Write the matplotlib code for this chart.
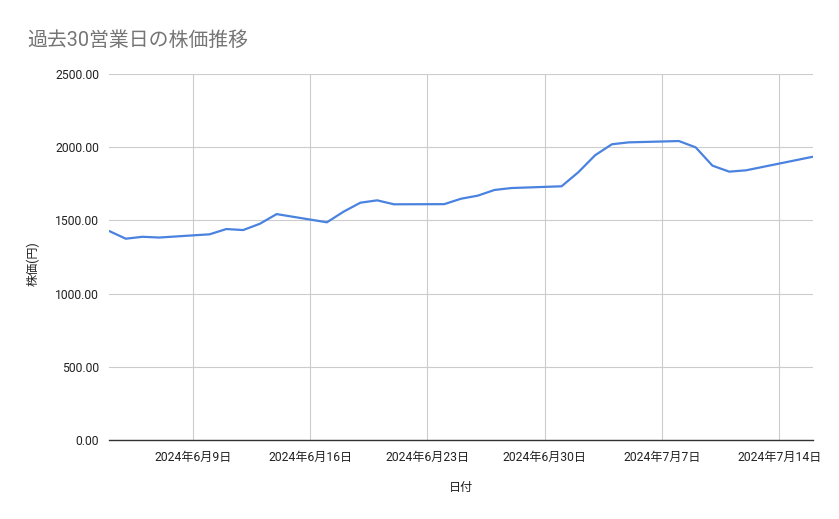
import matplotlib
matplotlib.use("Agg")
import matplotlib.pyplot as plt
import pandas as pd

plt.rcParams['font.family'] = ['Roboto', 'Noto Sans CJK JP', 'DejaVu Sans']

title = "過去30営業日の株価推移"
x_label = "日付"
y_label = "株価(円)"

dates = [
    "2024-06-04", "2024-06-05", "2024-06-06", "2024-06-07",
    "2024-06-10", "2024-06-11", "2024-06-12", "2024-06-13", "2024-06-14",
    "2024-06-17", "2024-06-18", "2024-06-19", "2024-06-20", "2024-06-21",
    "2024-06-24", "2024-06-25", "2024-06-26", "2024-06-27", "2024-06-28",
    "2024-07-01", "2024-07-02", "2024-07-03", "2024-07-04", "2024-07-05",
    "2024-07-08", "2024-07-09", "2024-07-10", "2024-07-11", "2024-07-12",
    "2024-07-16",
]
prices = [
    1428, 1375, 1388, 1383,
    1405, 1441, 1434, 1477, 1543,
    1487, 1560, 1621, 1637, 1610,
    1611, 1648, 1669, 1708, 1721,
    1733, 1829, 1945, 2020, 2033,
    2042, 1999, 1874, 1833, 1842,
    1935,
]
x_ticks = ["2024-06-09", "2024-06-16", "2024-06-23", "2024-06-30", "2024-07-07", "2024-07-14"]
y_ticks = [0, 500, 1000, 1500, 2000, 2500]

d = pd.to_datetime(dates)
xt = pd.to_datetime(x_ticks)

fig = plt.figure(figsize=(8.39, 5.19), dpi=100)
ax = fig.add_axes([109/839, 1-440/519, (813-109)/839, (440-74)/519])

ax.plot(d, prices, color="#4a82e0", linewidth=1.6, solid_joinstyle="round", zorder=3)

ax.set_xlim(d[0], d[-1])
ax.set_ylim(0, 2500)
ax.set_yticks(y_ticks)
ax.set_yticklabels([f"{v:.2f}" for v in y_ticks])
ax.set_xticks(xt)
ax.set_xticklabels([f"{t.year}年{t.month}月{t.day}日" for t in xt])

ax.grid(True, color="#cccccc", linewidth=0.8, zorder=0)
for s in ["top", "right", "left"]:
    ax.spines[s].set_visible(False)
ax.spines["bottom"].set_color("#333333")
ax.spines["bottom"].set_linewidth(1.0)
ax.spines["bottom"].set_zorder(4)
ax.tick_params(axis="both", length=0, labelsize=8.7, colors="#222222")
ax.tick_params(axis="y", pad=7)
ax.tick_params(axis="x", pad=8)

fig.text(27/839, 1-40/519, title, fontsize=14.3, color="#757575", ha="left", va="center")
fig.text(461/839, 1-487/519, x_label, fontsize=8.7, color="#222222", ha="center", va="center")
fig.text(33/839, 1-264/519, y_label, fontsize=8.7, color="#222222", ha="center", va="center", rotation=90)

fig.savefig("out.png", dpi=100)
